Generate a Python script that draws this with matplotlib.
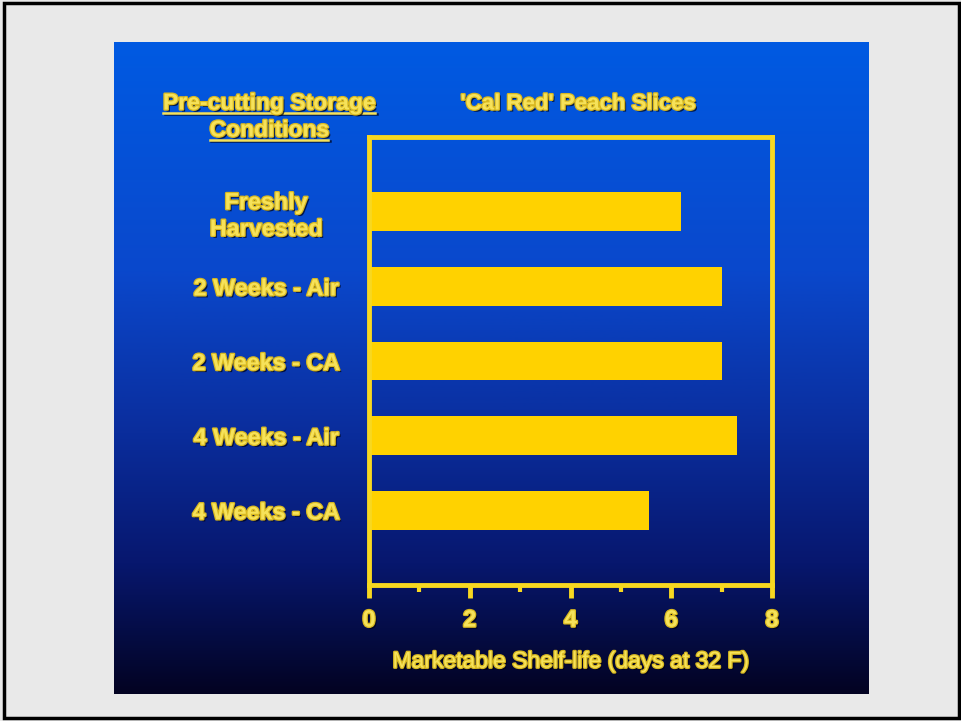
import numpy as np
import matplotlib
matplotlib.use('Agg')
import matplotlib.pyplot as plt
import matplotlib.patheffects as pe
from matplotlib.colors import LinearSegmentedColormap
from matplotlib.patches import Rectangle
from matplotlib.lines import Line2D

# dati
categorie = ['Freshly\nHarvested', '2 Weeks - Air', '2 Weeks - CA', '4 Weeks - Air', '4 Weeks - CA']
shelf_life = [6.2, 7.0, 7.0, 7.3, 5.55]
tick_maggiori = [0, 2, 4, 6, 8]
tick_minori = [1, 3, 5, 7]

giallo_barre = '#ffd200'
giallo_testo = '#f6e25a'
giallo_assi = '#f8d820'

plt.rcParams['font.family'] = ['Liberation Sans', 'DejaVu Sans']
plt.rcParams['font.weight'] = 'bold'

# ombra e contorno per rendere il testo piu' pesante, come nella diapositiva
ombra = [pe.SimplePatchShadow(offset=(1.5, -1.5), shadow_rgbFace='#000010', alpha=0.7),
         pe.Stroke(linewidth=1.8, foreground='#d8b820'), pe.Normal()]
ombra_linea = [pe.SimpleLineShadow(offset=(1.2, -1.2), shadow_color='#000010', alpha=0.7),
               pe.Normal()]

W, H = 961, 721
fig = plt.figure(figsize=(W/100, H/100), dpi=100, facecolor='#e9e9e9')

# sfondo della diapositiva con gradiente blu
sfondo = fig.add_axes([114/W, 1-694/H, 755/W, 652/H], zorder=0)
cmap = LinearSegmentedColormap.from_list('slide', [(0.0, '#005ae2'), (0.35, '#0a48cc'),
                                                   (0.6, '#0a2d9c'), (0.8, '#07176e'),
                                                   (1.0, '#030322')])
sfondo.imshow(np.linspace(0, 1, 256).reshape(-1, 1), aspect='auto', cmap=cmap, extent=[0, 1, 0, 1])
sfondo.axis('off')

# cornice nera esterna
fig.add_artist(Rectangle((3.5/W, 3/H), 955/W, 715/H, transform=fig.transFigure,
                         fill=False, lw=2.5, ec='black'))

ax = fig.add_axes([369/W, 1-585/H, 403/W, 448/H], zorder=1)
ax.set_facecolor('none')
y = np.arange(len(categorie))
ax.barh(y, shelf_life, height=0.52, color=giallo_barre, zorder=2)
ax.set_xlim(0, 8)
ax.set_ylim(5, -1)

for s in ax.spines.values():
    s.set_color(giallo_assi)
    s.set_linewidth(3.5)

ax.set_xticks(tick_maggiori)
ax.set_xticks(tick_minori, minor=True)
ax.tick_params(axis='x', which='major', direction='out', length=9, width=3.5,
               color=giallo_assi, labelsize=17, labelcolor=giallo_testo, pad=8)
ax.tick_params(axis='x', which='minor', direction='out', length=5, width=3, color=giallo_assi)
ax.set_yticks(y, categorie)
ax.tick_params(axis='y', length=0, pad=74, labelsize=16.8, labelcolor=giallo_testo)
for lbl in ax.get_yticklabels():
    lbl.set_ha('center')
    lbl.set_multialignment('center')
    lbl.set_path_effects(ombra)
for lbl in ax.get_xticklabels():
    lbl.set_path_effects(ombra)

ax.set_xlabel('Marketable Shelf-life (days at 32 F)', fontsize=16.5, color=giallo_testo,
              labelpad=13, path_effects=ombra)

fig.text(578/W, 1-104/H, "'Cal Red' Peach Slices", ha='center', va='center',
         fontsize=16, color=giallo_testo, path_effects=ombra)
t1 = fig.text(269/W, 1-103/H, 'Pre-cutting Storage', ha='center', va='center',
              fontsize=16.5, color=giallo_testo, path_effects=ombra)
t2 = fig.text(269/W, 1-130/H, 'Conditions', ha='center', va='center',
              fontsize=16.5, color=giallo_testo, path_effects=ombra)

# sottolineatura dei titoli a sinistra
fig.canvas.draw()
r = fig.canvas.get_renderer()
for t in (t1, t2):
    bb = t.get_window_extent(r)
    yl = (bb.y0 + 2) / H
    fig.add_artist(Line2D([bb.x0/W, bb.x1/W], [yl, yl], transform=fig.transFigure,
                          color=giallo_testo, lw=1.8, path_effects=ombra_linea))

fig.savefig('out.png', dpi=100, facecolor=fig.get_facecolor())
